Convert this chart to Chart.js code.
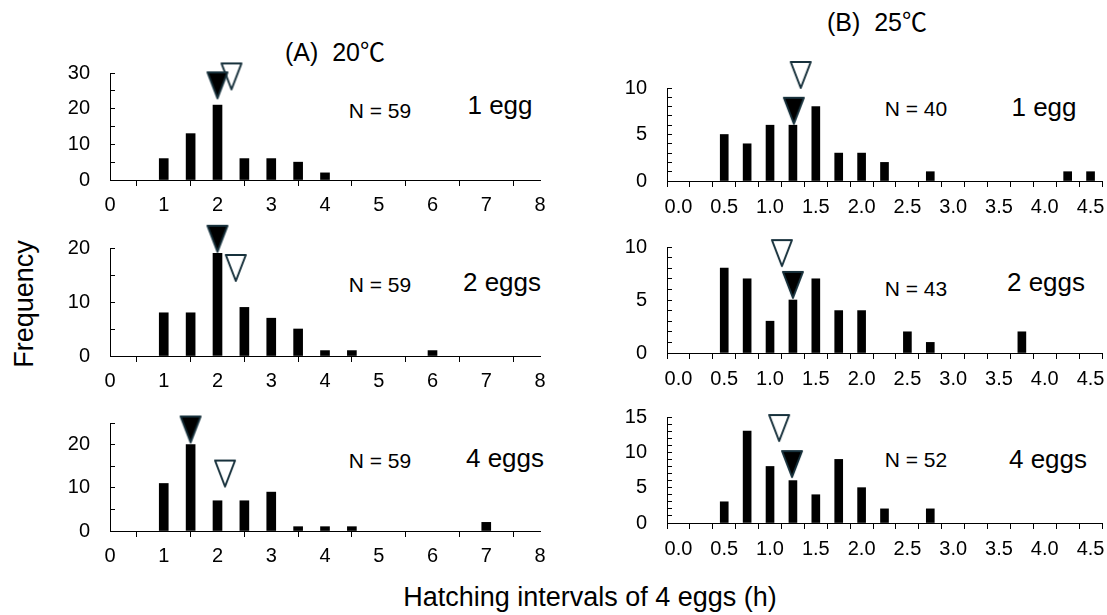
<!DOCTYPE html>
<html><head><meta charset="utf-8">
<script src="https://cdn.jsdelivr.net/npm/chart.js@4"></script>
<style>
html,body{margin:0;padding:0;background:#fff;}
body{width:1107px;height:615px;position:relative;overflow:hidden;font-family:"Liberation Sans",Arial,"Noto Sans CJK JP",sans-serif;color:#000;}
.wrap{position:absolute;}
.t{position:absolute;white-space:pre;line-height:1;transform:translate(-50%,-50%);}
</style></head><body>

<div class="t" style="left:335px;top:52px;font-size:25px;">(A)  20℃</div>
<div class="t" style="left:877px;top:22px;font-size:25px;">(B)  25℃</div>
<div class="t" style="left:24px;top:304px;font-size:27px;transform:translate(-50%,-50%) rotate(-90deg);">Frequency</div>
<div class="t" style="left:590px;top:597px;font-size:27px;">Hatching intervals of 4 eggs (h)</div>

<div class="t" style="left:380px;top:110px;font-size:21px;">N = 59</div>
<div class="t" style="left:380px;top:284px;font-size:21px;">N = 59</div>
<div class="t" style="left:380px;top:460px;font-size:21px;">N = 59</div>
<div class="t" style="left:916px;top:108px;font-size:21px;">N = 40</div>
<div class="t" style="left:916px;top:288px;font-size:21px;">N = 43</div>
<div class="t" style="left:916px;top:459px;font-size:21px;">N = 52</div>

<div class="t" style="left:500px;top:105px;font-size:26px;">1 egg</div>
<div class="t" style="left:502px;top:282px;font-size:26px;">2 eggs</div>
<div class="t" style="left:505px;top:458px;font-size:26px;">4 eggs</div>
<div class="t" style="left:1044px;top:107px;font-size:26px;">1 egg</div>
<div class="t" style="left:1046px;top:282px;font-size:26px;">2 eggs</div>
<div class="t" style="left:1048px;top:459px;font-size:26px;">4 eggs</div>

<div class="wrap" id="wA1"><canvas id="cA1"></canvas></div>
<div class="wrap" id="wA2"><canvas id="cA2"></canvas></div>
<div class="wrap" id="wA3"><canvas id="cA3"></canvas></div>
<div class="wrap" id="wB1"><canvas id="cB1"></canvas></div>
<div class="wrap" id="wB2"><canvas id="cB2"></canvas></div>
<div class="wrap" id="wB3"><canvas id="cB3"></canvas></div>

<script>
// ---------- data ----------
// (A) 20 °C : hatching interval bins (h) and frequencies
const a1Interval = [1, 1.5, 2, 2.5, 3, 3.5, 4];
const a1Freq     = [6, 13, 21, 6, 6, 5, 2];
const a2Interval = [1, 1.5, 2, 2.5, 3, 3.5, 4, 4.5, 6];
const a2Freq     = [8, 8, 19, 9, 7, 5, 1, 1, 1];
const a3Interval = [1, 1.5, 2, 2.5, 3, 3.5, 4, 4.5, 7];
const a3Freq     = [11, 20, 7, 7, 9, 1, 1, 1, 2];
// (B) 25 °C
const b1Interval = [0.5, 0.75, 1, 1.25, 1.5, 1.75, 2, 2.25, 2.75, 4.25, 4.5];
const b1Freq     = [5, 4, 6, 6, 8, 3, 3, 2, 1, 1, 1];
const b2Interval = [0.5, 0.75, 1, 1.25, 1.5, 1.75, 2, 2.5, 2.75, 3.75];
const b2Freq     = [8, 7, 3, 5, 7, 4, 4, 2, 1, 2];
const b3Interval = [0.5, 0.75, 1, 1.25, 1.5, 1.75, 2, 2.25, 2.75];
const b3Freq     = [3, 13, 8, 6, 4, 9, 5, 2, 2];

// marker positions [x, y at triangle tip]: filled (▼) and open (▽)
const a1Filled = [2.0, 22.9],  a1Open = [2.26, 25.4];
const a2Filled = [2.0, 19.3],  a2Open = [2.34, 13.9];
const a3Filled = [1.5, 20.5],  a3Open = [2.14, 10.3];
const b1Filled = [1.26, 6.15], b1Open = [1.335, 10.0];
const b2Filled = [1.25, 5.2],  b2Open = [1.13, 8.2];
const b3Filled = [1.24, 6.5],  b3Open = [1.10, 11.6];

// axes
const aXTicks = [0, 1, 2, 3, 4, 5, 6, 7, 8];
const bXTicks = [0, 0.25, 0.5, 0.75, 1, 1.25, 1.5, 1.75, 2, 2.25, 2.5, 2.75, 3, 3.25, 3.5, 3.75, 4, 4.25, 4.5];
const aXRange = [0, 8];
const bXRange = [-0.125, 4.625];
const aYMax = [30, 20, 25];
const bYMax = [10, 10, 15];

// ---------- layout / style ----------
const FONT = '"Liberation Sans", Arial, sans-serif';
const TICK_SIZE = 20;
const YW = 60, XH = 45, PAD_T = 45, PAD_R = 25;
const OUTLINE = '#17313c';
Chart.defaults.font.family = FONT;
Chart.defaults.color = '#000';

const TRI_W = 20, TRI_H = 26;
function makeTriangle(fill) {
  const c = document.createElement('canvas');
  c.width = TRI_W + 6; c.height = (TRI_H + 3) * 2;
  const g = c.getContext('2d');
  const cx = c.width / 2, tipY = c.height / 2;
  g.beginPath();
  g.moveTo(cx - TRI_W / 2, tipY - TRI_H);
  g.lineTo(cx + TRI_W / 2, tipY - TRI_H);
  g.lineTo(cx, tipY);
  g.closePath();
  g.fillStyle = fill; g.fill();
  g.lineWidth = 2; g.lineJoin = 'round'; g.strokeStyle = OUTLINE; g.stroke();
  return c;
}
const triFilled = makeTriangle('#000');
const triOpen = makeTriangle('#fff');

function makePanel(id, box, xs, freqs, filled, open, xTicks, xRange, yMax, yStep, yLabelEvery, barW, xPad, labelFn) {
  const wrap = document.getElementById('w' + id);
  const cv = document.getElementById('c' + id);
  const left = box.l - YW, top = box.t - PAD_T;
  const w = (box.r + PAD_R) - left, h = (box.b + XH) - top;
  wrap.style.left = left + 'px'; wrap.style.top = top + 'px';
  cv.width = w; cv.height = h;
  new Chart(cv, {
    type: 'bar',
    data: {
      datasets: [
        { type: 'line', data: [{ x: filled[0], y: filled[1] }], showLine: false, pointStyle: triFilled, pointRadius: 5, clip: false, order: 0 },
        { type: 'line', data: [{ x: open[0], y: open[1] }], showLine: false, pointStyle: triOpen, pointRadius: 5, clip: false, order: 0 },
        { type: 'bar', data: xs.map((x, i) => ({ x: x, y: freqs[i] })), backgroundColor: '#000', barThickness: barW, order: 1 }
      ]
    },
    options: {
      responsive: false, animation: false, devicePixelRatio: 1, events: [],
      layout: { padding: { left: 0, top: PAD_T, right: PAD_R, bottom: 0 } },
      plugins: { legend: { display: false }, tooltip: { enabled: false } },
      scales: {
        x: {
          type: 'linear', min: xRange[0], max: xRange[1], offset: false,
          afterBuildTicks: s => { s.ticks = xTicks.map(v => ({ value: v })); },
          afterFit: s => { s.height = XH; },
          ticks: { autoSkip: false, maxRotation: 0, minRotation: 0, padding: xPad, color: '#000',
                   font: { size: TICK_SIZE }, callback: v => labelFn(v) },
          grid: { drawOnChartArea: false, tickLength: 6, color: '#000', lineWidth: 1 },
          border: { color: '#000', width: 1 }
        },
        y: {
          min: 0, max: yMax,
          afterFit: s => { s.width = YW; },
          ticks: { stepSize: yStep, autoSkip: false, padding: 25, color: '#000', font: { size: TICK_SIZE },
                   callback: v => (v % yLabelEvery === 0 ? String(v) : '') },
          grid: { drawOnChartArea: false, tickLength: -5, color: '#000', lineWidth: 1 },
          border: { color: '#000', width: 1 }
        }
      }
    }
  });
}

const aLabel = v => String(v);
const bLabel = v => (Math.abs(v * 2 - Math.round(v * 2)) < 1e-9 ? v.toFixed(1) : '');

makePanel('A1', { l: 110, r: 540, t: 73,  b: 180 }, a1Interval, a1Freq, a1Filled, a1Open, aXTicks, aXRange, aYMax[0], 5, 10, 9, 7, aLabel);
makePanel('A2', { l: 110, r: 540, t: 248, b: 356 }, a2Interval, a2Freq, a2Filled, a2Open, aXTicks, aXRange, aYMax[1], 5, 10, 9, 7, aLabel);
makePanel('A3', { l: 110, r: 540, t: 423, b: 531 }, a3Interval, a3Freq, a3Filled, a3Open, aXTicks, aXRange, aYMax[2], 5, 10, 9, 7, aLabel);
makePanel('B1', { l: 667, r: 1102, t: 88,  b: 181 }, b1Interval, b1Freq, b1Filled, b1Open, bXTicks, bXRange, bYMax[0], 1, 5, 8, 8, bLabel);
makePanel('B2', { l: 667, r: 1102, t: 247, b: 353 }, b2Interval, b2Freq, b2Filled, b2Open, bXTicks, bXRange, bYMax[1], 1, 5, 8, 8, bLabel);
makePanel('B3', { l: 667, r: 1102, t: 417, b: 523 }, b3Interval, b3Freq, b3Filled, b3Open, bXTicks, bXRange, bYMax[2], 1, 5, 8, 8, bLabel);
</script>
</body></html>
